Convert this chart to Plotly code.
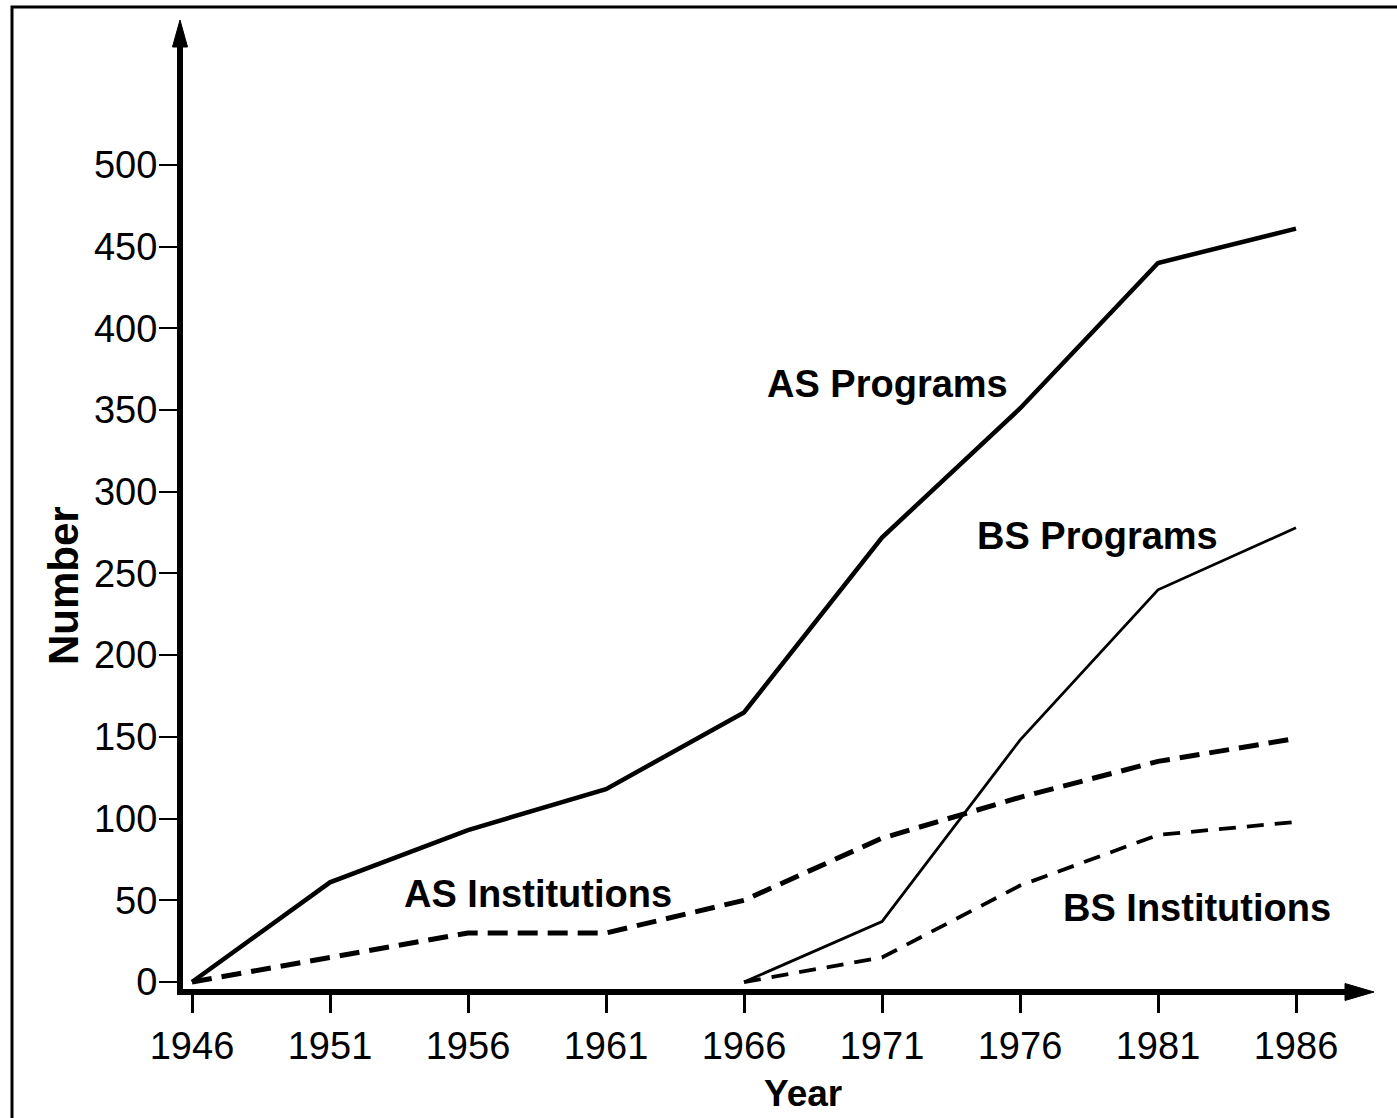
import plotly.graph_objects as go

# ---- data ----
years = [1946, 1951, 1956, 1961, 1966, 1971, 1976, 1981, 1986]
as_programs = [0, 61, 93, 118, 165, 272, 351, 440, 461]
bs_programs = [None, None, None, None, 0, 37, 148, 240, 278]
as_institutions = [0, 15, 30, 30, 50, 88, 113, 135, 149]
bs_institutions = [None, None, None, None, 0, 15, 59, 90, 98]
y_ticks = [0, 50, 100, 150, 200, 250, 300, 350, 400, 450, 500]

labels = ["AS Programs", "BS Programs", "AS Institutions", "BS Institutions"]

# ---- layout geometry (pixels) ----
W, H = 1397, 1118
L, R, T, B = 183, 1347, 45, 989
PW, PH = R - L, B - T

def px_x(p):
    return (p - L) / PW

def px_y(p):
    return (B - p) / PH

FONT = "Liberation Sans, Arial, Helvetica, sans-serif"

fig = go.Figure()
fig.add_trace(go.Scatter(x=years, y=as_programs, mode="lines", name=labels[0],
                         line=dict(color="black", width=4.5)))
fig.add_trace(go.Scatter(x=years, y=bs_programs, mode="lines", name=labels[1],
                         line=dict(color="black", width=2.8)))
fig.add_trace(go.Scatter(x=years, y=as_institutions, mode="lines", name=labels[2],
                         line=dict(color="black", width=5, dash="20px,10px")))
fig.add_trace(go.Scatter(x=years, y=bs_institutions, mode="lines", name=labels[3],
                         line=dict(color="black", width=3.8, dash="17px,11px")))

fig.update_layout(
    width=W, height=H, autosize=False,
    margin=dict(l=L, r=W - R, t=T, b=H - B, pad=0),
    paper_bgcolor="white", plot_bgcolor="white",
    showlegend=False,
    font=dict(family=FONT, color="black", size=38),
    xaxis=dict(
        range=[1945.674, 1987.848], tickvals=years, ticktext=[str(y) for y in years],
        showgrid=False, zeroline=False, showline=True, linecolor="black", linewidth=6,
        ticks="outside", ticklen=18, tickwidth=3, tickcolor="black",
        tickfont=dict(family=FONT, size=38, color="black"), automargin=False,
    ),
    yaxis=dict(
        range=[-4.28, 573.4], tickvals=y_ticks, ticktext=[str(v) for v in y_ticks],
        showgrid=False, zeroline=False, showline=True, linecolor="black", linewidth=6,
        ticks="outside", ticklen=18, tickwidth=2, tickcolor="black",
        ticklabelstandoff=-6,
        tickfont=dict(family=FONT, size=38, color="black"), automargin=False,
    ),
)

# series labels
label_pos = [(887, 384), (1097, 536), (538, 894), (1197, 908)]
for text, (px, py) in zip(labels, label_pos):
    fig.add_annotation(x=px_x(px), y=px_y(py), xref="paper", yref="paper",
                       text="<b>%s</b>" % text, showarrow=False,
                       xanchor="center", yanchor="middle",
                       font=dict(family=FONT, size=38, color="black"))

# axis titles
fig.add_annotation(x=px_x(803), y=px_y(1093), xref="paper", yref="paper",
                   text="<b>Year</b>", showarrow=False, xanchor="center", yanchor="middle",
                   font=dict(family=FONT, size=37, color="black"))
fig.add_annotation(x=px_x(63), y=px_y(586), xref="paper", yref="paper",
                   text="<b>Number</b>", textangle=-90, showarrow=False,
                   xanchor="center", yanchor="middle",
                   font=dict(family=FONT, size=42, color="black"))

# arrow heads of the axes
def tri(p1, p2, p3):
    pts = [p1, p2, p3]
    return "M " + " L ".join("%f,%f" % (px_x(a), px_y(b)) for a, b in pts) + " Z"

fig.add_shape(type="path", xref="paper", yref="paper",
              path=tri((180, 20), (172.5, 47), (187.5, 47)),
              fillcolor="black", line=dict(color="black", width=1))
fig.add_shape(type="path", xref="paper", yref="paper",
              path=tri((1374, 992), (1345, 983.5), (1345, 1000.5)),
              fillcolor="black", line=dict(color="black", width=1))

# outer frame (top and left edges visible)
fig.add_shape(type="rect", xref="paper", yref="paper",
              x0=px_x(12), y0=px_y(1130), x1=px_x(1410), y1=px_y(7),
              line=dict(color="black", width=3), fillcolor="rgba(0,0,0,0)")

fig.write_html("out.html", config={"displayModeBar": False},
               post_script="document.body.style.margin='0';")
